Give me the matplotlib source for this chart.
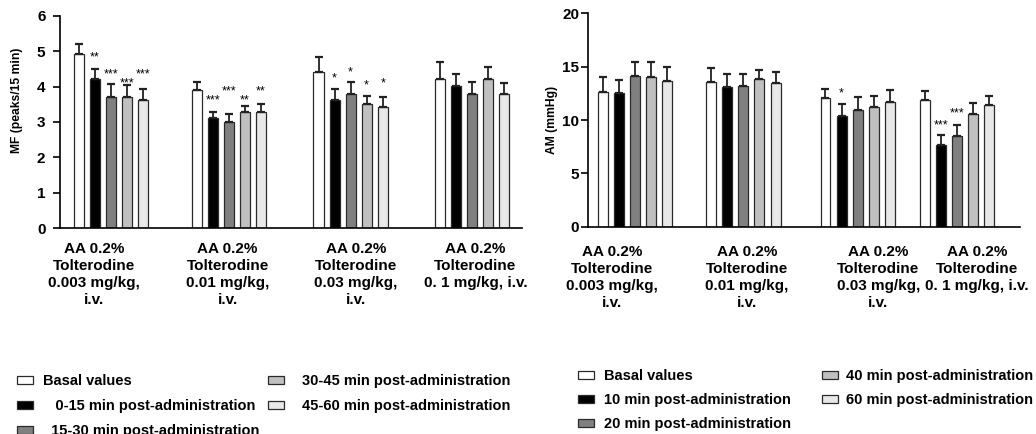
import numpy as np
import matplotlib.pyplot as plt
from matplotlib.patches import Patch

plt.rcParams['font.family'] = ['Liberation Sans', 'DejaVu Sans']
plt.rcParams['font.weight'] = 'bold'

# group labels
groups = ["AA 0.2%\nTolterodine\n0.003 mg/kg,\ni.v.",
          "AA 0.2%\nTolterodine\n0.01 mg/kg,\ni.v.",
          "AA 0.2%\nTolterodine\n0.03 mg/kg,\ni.v.",
          "AA 0.2%\nTolterodine\n0. 1 mg/kg, i.v."]

# MF panel (peaks/15 min), rows = groups, cols = time points
mf_mean = [[4.92, 4.20, 3.71, 3.71, 3.61],
           [3.91, 3.10, 3.01, 3.29, 3.29],
           [4.41, 3.61, 3.79, 3.50, 3.41],
           [4.20, 4.01, 3.79, 4.20, 3.79]]
mf_sem = [[0.27, 0.30, 0.36, 0.34, 0.32],
          [0.23, 0.17, 0.21, 0.16, 0.22],
          [0.41, 0.32, 0.35, 0.22, 0.29],
          [0.48, 0.33, 0.35, 0.36, 0.32]]
mf_stars = [(0, 1, '**', 4.94), (0, 2, '***', 4.44), (0, 3, '***', 4.21), (0, 4, '***', 4.44),
            (1, 1, '***', 3.72), (1, 2, '***', 3.98), (1, 3, '**', 3.72), (1, 4, '**', 3.98),
            (2, 1, '*', 4.33), (2, 2, '*', 4.50), (2, 3, '*', 4.14), (2, 4, '*', 4.21)]
mf_labels = ['Basal values', '   0-15 min post-administration', '  15-30 min post-administration',
             '30-45 min post-administration', '45-60 min post-administration']

# AM panel (mmHg)
am_mean = [[12.63, 12.57, 14.10, 14.04, 13.70],
           [13.57, 13.10, 13.20, 13.86, 13.48],
           [12.10, 10.38, 10.97, 11.25, 11.69],
           [11.85, 7.62, 8.46, 10.60, 11.44]]
am_sem = [[1.41, 1.16, 1.35, 1.41, 1.28],
          [1.32, 1.20, 1.10, 0.81, 1.03],
          [0.80, 1.09, 1.19, 1.01, 1.16],
          [0.88, 1.00, 1.04, 1.00, 0.79]]
am_stars = [(2, 1, '*', 12.9), (3, 1, '***', 9.9), (3, 2, '***', 11.0)]
am_labels = ['Basal values', '10 min post-administration', '20 min post-administration',
             '40 min post-administration', '60 min post-administration']

colors = ['white', 'black', '#808080', '#c0c0c0', '#e8e8e8']


def panel(ax, pos, means, sems, stars, pitch, width, ylim, yticks, ylabel,
          xlim, lab_x, lab_off, tick_pad, ylab_xy):
    pos = np.array(pos)
    means = np.array(means)
    sems = np.array(sems)
    for i in range(5):
        ax.bar(pos + (i - 2) * pitch, means[:, i], width,
               yerr=[np.zeros(len(pos)), sems[:, i]],
               color=colors[i], edgecolor='#2a2a2a', linewidth=0.9,
               error_kw=dict(ecolor='#222222', elinewidth=1.3, capsize=2.9, capthick=1.6))
    for g, b, s, y in stars:
        ax.annotate(s, (pos[g] + (b - 2) * pitch, y), xytext=(0, -5.0),
                    textcoords='offset points', ha='center', va='baseline',
                    fontsize=9, fontweight='normal')
    for x, t in zip(lab_x, groups):
        ax.annotate(t, (x, 0), xycoords=ax.get_xaxis_transform(),
                    xytext=(0, -lab_off), textcoords='offset points',
                    ha='center', va='top', fontsize=11, fontweight='bold',
                    linespacing=1.27, annotation_clip=False)
    ax.set_xlim(xlim)
    ax.set_ylim(ylim)
    ax.set_yticks(yticks)
    ax.set_xticks([])
    ax.spines['top'].set_visible(False)
    ax.spines['right'].set_visible(False)
    ax.spines['left'].set_linewidth(1.2)
    ax.spines['bottom'].set_linewidth(1.2)
    ax.tick_params(axis='y', length=5, width=1.2, pad=tick_pad, labelsize=11)
    ax.set_ylabel(ylabel, fontsize=8.7, fontweight='bold')
    ax.yaxis.set_label_coords(*ylab_xy)


fig = plt.figure(figsize=(10.36, 4.34), dpi=100)
ax1 = fig.add_axes([0.0579, 0.474, 0.4459, 0.49])
ax2 = fig.add_axes([0.5679, 0.4776, 0.4167, 0.4917])

panel(ax1, [0, 1.0, 2.033, 3.061], mf_mean, mf_sem, mf_stars, 0.136, 0.085,
      (0, 6), range(0, 7), 'MF (peaks/15 min)', (-0.43, 3.485),
      [-0.14, 0.99, 2.08, 3.09], 9.9, 5.5, (-0.08, 0.6))
panel(ax2, [0, 1.0, 2.056, 2.975], am_mean, am_sem, am_stars, 0.1487, 0.092,
      (0, 20), range(0, 21, 5), 'AM (mmHg)', (-0.431, 3.555),
      [-0.212, 1.034, 2.248, 3.158], 13.2, 1.5, (-0.07, 0.5))

handles = [Patch(facecolor=c, edgecolor='#2a2a2a', linewidth=0.9) for c in colors]


def leg(h, l, x, y, pad, sp):
    lg = fig.legend(h, l, loc='upper left', bbox_to_anchor=(x / 1036, 1 - y / 434),
                    frameon=False, borderpad=0, borderaxespad=0, fontsize=10.5,
                    handlelength=1.1, handleheight=0.5, handletextpad=pad,
                    labelspacing=sp)
    return lg


leg(handles[:3], mf_labels[:3], 17, 374, 0.7, 0.76)
leg(handles[3:], mf_labels[3:], 268, 374, 1.25, 0.76)
leg(handles[:3], am_labels[:3], 578, 369, 0.7, 0.69)
leg(handles[3:], am_labels[3:], 822, 369, 0.55, 0.69)

fig.savefig('out.png', dpi=100)
